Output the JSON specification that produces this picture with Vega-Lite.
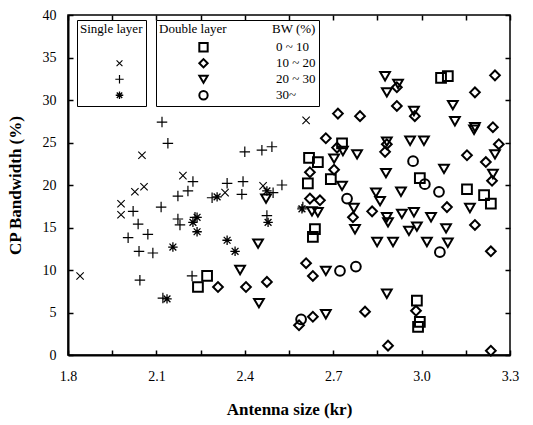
{
  "$schema": "https://vega.github.io/schema/vega-lite/v6.json",
  "width": 442,
  "height": 340,
  "autosize": {"type": "none"},
  "padding": {"left": 68, "top": 15, "right": 23, "bottom": 70},
  "background": "white",
  "config": {
    "font": "Liberation Serif",
    "view": {"stroke": "black", "strokeWidth": 1.5},
    "axis": {
      "domainColor": "black",
      "domainWidth": 2,
      "tickColor": "black",
      "tickWidth": 1.5,
      "grid": false,
      "labelFont": "Liberation Serif",
      "labelFontSize": 14,
      "labelColor": "black",
      "titleFont": "Liberation Serif",
      "titleFontSize": 17,
      "titleFontWeight": "bold",
      "titleColor": "black"
    },
    "legend": {
      "labelFont": "Liberation Serif",
      "titleFont": "Liberation Serif",
      "titleFontWeight": "normal",
      "titleFontSize": 13,
      "labelFontSize": 13,
      "titleColor": "black",
      "labelColor": "black",
      "strokeColor": "black",
      "fillColor": "white",
      "symbolStrokeColor": "black",
      "symbolFillColor": "transparent",
      "symbolStrokeWidth": 2,
      "symbolSize": 70,
      "rowPadding": 1,
      "clipHeight": 14.5,
      "padding": 3
    }
  },
  "data": {
    "values": [
      {"layer": "Single", "bw": "10 ~ 20", "x": 1.841, "y": 9.3},
      {"layer": "Single", "bw": "10 ~ 20", "x": 2.051, "y": 23.5},
      {"layer": "Single", "bw": "10 ~ 20", "x": 1.98, "y": 17.8},
      {"layer": "Single", "bw": "10 ~ 20", "x": 1.98, "y": 16.5},
      {"layer": "Single", "bw": "10 ~ 20", "x": 2.027, "y": 19.2},
      {"layer": "Single", "bw": "10 ~ 20", "x": 2.058, "y": 19.8},
      {"layer": "Single", "bw": "10 ~ 20", "x": 2.19, "y": 21.1},
      {"layer": "Single", "bw": "10 ~ 20", "x": 2.608, "y": 27.6},
      {"layer": "Single", "bw": "10 ~ 20", "x": 2.333, "y": 19.1},
      {"layer": "Single", "bw": "10 ~ 20", "x": 2.462, "y": 19.9},
      {"layer": "Single", "bw": "20 ~ 30", "x": 2.119, "y": 27.4},
      {"layer": "Single", "bw": "20 ~ 30", "x": 2.139, "y": 24.9},
      {"layer": "Single", "bw": "20 ~ 30", "x": 2.224, "y": 20.4},
      {"layer": "Single", "bw": "20 ~ 30", "x": 2.207, "y": 19.3},
      {"layer": "Single", "bw": "20 ~ 30", "x": 2.173, "y": 18.7},
      {"layer": "Single", "bw": "20 ~ 30", "x": 2.116, "y": 17.4},
      {"layer": "Single", "bw": "20 ~ 30", "x": 2.021, "y": 16.9},
      {"layer": "Single", "bw": "20 ~ 30", "x": 2.038, "y": 15.4},
      {"layer": "Single", "bw": "20 ~ 30", "x": 2.071, "y": 14.2},
      {"layer": "Single", "bw": "20 ~ 30", "x": 2.004, "y": 13.8},
      {"layer": "Single", "bw": "20 ~ 30", "x": 2.041, "y": 12.2},
      {"layer": "Single", "bw": "20 ~ 30", "x": 2.088, "y": 12.0},
      {"layer": "Single", "bw": "20 ~ 30", "x": 2.044, "y": 8.8},
      {"layer": "Single", "bw": "20 ~ 30", "x": 2.221, "y": 9.3},
      {"layer": "Single", "bw": "20 ~ 30", "x": 2.173, "y": 16.0},
      {"layer": "Single", "bw": "20 ~ 30", "x": 2.18, "y": 15.3},
      {"layer": "Single", "bw": "20 ~ 30", "x": 2.289, "y": 18.5},
      {"layer": "Single", "bw": "20 ~ 30", "x": 2.40, "y": 23.9},
      {"layer": "Single", "bw": "20 ~ 30", "x": 2.458, "y": 24.1},
      {"layer": "Single", "bw": "20 ~ 30", "x": 2.492, "y": 24.5},
      {"layer": "Single", "bw": "20 ~ 30", "x": 2.34, "y": 20.2},
      {"layer": "Single", "bw": "20 ~ 30", "x": 2.394, "y": 20.4},
      {"layer": "Single", "bw": "20 ~ 30", "x": 2.39, "y": 18.9},
      {"layer": "Single", "bw": "20 ~ 30", "x": 2.526, "y": 20.0},
      {"layer": "Single", "bw": "20 ~ 30", "x": 2.496, "y": 19.1},
      {"layer": "Single", "bw": "20 ~ 30", "x": 2.475, "y": 16.4},
      {"layer": "Single", "bw": "20 ~ 30", "x": 2.597, "y": 17.4},
      {"layer": "Single", "bw": "20 ~ 30", "x": 2.231, "y": 16.2},
      {"layer": "Single", "bw": "20 ~ 30", "x": 2.122, "y": 6.7},
      {"layer": "Single", "bw": "30~", "x": 2.306, "y": 18.6},
      {"layer": "Single", "bw": "30~", "x": 2.238, "y": 16.2},
      {"layer": "Single", "bw": "30~", "x": 2.224, "y": 15.6},
      {"layer": "Single", "bw": "30~", "x": 2.238, "y": 14.5},
      {"layer": "Single", "bw": "30~", "x": 2.156, "y": 12.7},
      {"layer": "Single", "bw": "30~", "x": 2.136, "y": 6.6},
      {"layer": "Single", "bw": "30~", "x": 2.34, "y": 13.5},
      {"layer": "Single", "bw": "30~", "x": 2.367, "y": 12.2},
      {"layer": "Single", "bw": "30~", "x": 2.479, "y": 15.6},
      {"layer": "Single", "bw": "30~", "x": 2.475, "y": 19.3},
      {"layer": "Single", "bw": "30~", "x": 2.594, "y": 17.2},
      {"layer": "Double", "bw": "0 ~ 10", "x": 2.272, "y": 9.3},
      {"layer": "Double", "bw": "0 ~ 10", "x": 2.241, "y": 8.0},
      {"layer": "Double", "bw": "0 ~ 10", "x": 2.638, "y": 14.8},
      {"layer": "Double", "bw": "0 ~ 10", "x": 2.631, "y": 13.9},
      {"layer": "Double", "bw": "0 ~ 10", "x": 2.618, "y": 23.2},
      {"layer": "Double", "bw": "0 ~ 10", "x": 2.648, "y": 22.7},
      {"layer": "Double", "bw": "0 ~ 10", "x": 2.692, "y": 20.7},
      {"layer": "Double", "bw": "0 ~ 10", "x": 2.614, "y": 20.2},
      {"layer": "Double", "bw": "0 ~ 10", "x": 3.066, "y": 32.6},
      {"layer": "Double", "bw": "0 ~ 10", "x": 3.089, "y": 32.8},
      {"layer": "Double", "bw": "0 ~ 10", "x": 2.73, "y": 24.9},
      {"layer": "Double", "bw": "0 ~ 10", "x": 2.994, "y": 20.8},
      {"layer": "Double", "bw": "0 ~ 10", "x": 3.154, "y": 19.5},
      {"layer": "Double", "bw": "0 ~ 10", "x": 3.212, "y": 18.8},
      {"layer": "Double", "bw": "0 ~ 10", "x": 3.235, "y": 17.8},
      {"layer": "Double", "bw": "0 ~ 10", "x": 2.984, "y": 6.4},
      {"layer": "Double", "bw": "0 ~ 10", "x": 2.994, "y": 3.9},
      {"layer": "Double", "bw": "0 ~ 10", "x": 2.988, "y": 3.3},
      {"layer": "Double", "bw": "10 ~ 20", "x": 2.309, "y": 8.0},
      {"layer": "Double", "bw": "10 ~ 20", "x": 2.404, "y": 8.0},
      {"layer": "Double", "bw": "10 ~ 20", "x": 2.475, "y": 8.6},
      {"layer": "Double", "bw": "10 ~ 20", "x": 2.608, "y": 10.8},
      {"layer": "Double", "bw": "10 ~ 20", "x": 2.631, "y": 9.3},
      {"layer": "Double", "bw": "10 ~ 20", "x": 2.631, "y": 4.5},
      {"layer": "Double", "bw": "10 ~ 20", "x": 2.584, "y": 3.5},
      {"layer": "Double", "bw": "10 ~ 20", "x": 2.716, "y": 28.4},
      {"layer": "Double", "bw": "10 ~ 20", "x": 2.675, "y": 25.5},
      {"layer": "Double", "bw": "10 ~ 20", "x": 2.713, "y": 24.4},
      {"layer": "Double", "bw": "10 ~ 20", "x": 2.703, "y": 21.8},
      {"layer": "Double", "bw": "10 ~ 20", "x": 2.621, "y": 21.5},
      {"layer": "Double", "bw": "10 ~ 20", "x": 2.621, "y": 18.4},
      {"layer": "Double", "bw": "10 ~ 20", "x": 2.655, "y": 18.2},
      {"layer": "Double", "bw": "10 ~ 20", "x": 2.791, "y": 28.1},
      {"layer": "Double", "bw": "10 ~ 20", "x": 2.916, "y": 29.3},
      {"layer": "Double", "bw": "10 ~ 20", "x": 2.916, "y": 31.5},
      {"layer": "Double", "bw": "10 ~ 20", "x": 2.977, "y": 28.1},
      {"layer": "Double", "bw": "10 ~ 20", "x": 3.181, "y": 30.9},
      {"layer": "Double", "bw": "10 ~ 20", "x": 3.249, "y": 32.9},
      {"layer": "Double", "bw": "10 ~ 20", "x": 3.242, "y": 26.8},
      {"layer": "Double", "bw": "10 ~ 20", "x": 2.876, "y": 23.9},
      {"layer": "Double", "bw": "10 ~ 20", "x": 2.882, "y": 24.8},
      {"layer": "Double", "bw": "10 ~ 20", "x": 3.154, "y": 23.5},
      {"layer": "Double", "bw": "10 ~ 20", "x": 3.218, "y": 22.7},
      {"layer": "Double", "bw": "10 ~ 20", "x": 3.262, "y": 24.8},
      {"layer": "Double", "bw": "10 ~ 20", "x": 3.239, "y": 20.5},
      {"layer": "Double", "bw": "10 ~ 20", "x": 2.767, "y": 16.2},
      {"layer": "Double", "bw": "10 ~ 20", "x": 2.832, "y": 16.9},
      {"layer": "Double", "bw": "10 ~ 20", "x": 3.086, "y": 17.4},
      {"layer": "Double", "bw": "10 ~ 20", "x": 3.181, "y": 15.3},
      {"layer": "Double", "bw": "10 ~ 20", "x": 3.235, "y": 12.2},
      {"layer": "Double", "bw": "10 ~ 20", "x": 2.808, "y": 5.1},
      {"layer": "Double", "bw": "10 ~ 20", "x": 2.981, "y": 5.2},
      {"layer": "Double", "bw": "10 ~ 20", "x": 2.886, "y": 1.1},
      {"layer": "Double", "bw": "10 ~ 20", "x": 3.235, "y": 0.5},
      {"layer": "Double", "bw": "20 ~ 30", "x": 2.445, "y": 13.1},
      {"layer": "Double", "bw": "20 ~ 30", "x": 2.384, "y": 10.0},
      {"layer": "Double", "bw": "20 ~ 30", "x": 2.448, "y": 6.1},
      {"layer": "Double", "bw": "20 ~ 30", "x": 2.675, "y": 9.9},
      {"layer": "Double", "bw": "20 ~ 30", "x": 2.675, "y": 4.8},
      {"layer": "Double", "bw": "20 ~ 30", "x": 2.876, "y": 32.8},
      {"layer": "Double", "bw": "20 ~ 30", "x": 2.92, "y": 31.9},
      {"layer": "Double", "bw": "20 ~ 30", "x": 2.882, "y": 30.9},
      {"layer": "Double", "bw": "20 ~ 30", "x": 2.974, "y": 28.7},
      {"layer": "Double", "bw": "20 ~ 30", "x": 3.106, "y": 29.4},
      {"layer": "Double", "bw": "20 ~ 30", "x": 3.113, "y": 27.5},
      {"layer": "Double", "bw": "20 ~ 30", "x": 3.181, "y": 26.8},
      {"layer": "Double", "bw": "20 ~ 30", "x": 2.703, "y": 23.1},
      {"layer": "Double", "bw": "20 ~ 30", "x": 2.781, "y": 23.6},
      {"layer": "Double", "bw": "20 ~ 30", "x": 2.733, "y": 24.0},
      {"layer": "Double", "bw": "20 ~ 30", "x": 2.882, "y": 25.1},
      {"layer": "Double", "bw": "20 ~ 30", "x": 2.961, "y": 25.2},
      {"layer": "Double", "bw": "20 ~ 30", "x": 3.008, "y": 25.2},
      {"layer": "Double", "bw": "20 ~ 30", "x": 3.178, "y": 26.5},
      {"layer": "Double", "bw": "20 ~ 30", "x": 2.879, "y": 21.4},
      {"layer": "Double", "bw": "20 ~ 30", "x": 3.076, "y": 21.9},
      {"layer": "Double", "bw": "20 ~ 30", "x": 3.249, "y": 23.6},
      {"layer": "Double", "bw": "20 ~ 30", "x": 3.242, "y": 21.3},
      {"layer": "Double", "bw": "20 ~ 30", "x": 2.73, "y": 19.9},
      {"layer": "Double", "bw": "20 ~ 30", "x": 2.845, "y": 19.1},
      {"layer": "Double", "bw": "20 ~ 30", "x": 2.93, "y": 19.2},
      {"layer": "Double", "bw": "20 ~ 30", "x": 2.859, "y": 18.1},
      {"layer": "Double", "bw": "20 ~ 30", "x": 2.77, "y": 17.3},
      {"layer": "Double", "bw": "20 ~ 30", "x": 2.882, "y": 16.2},
      {"layer": "Double", "bw": "20 ~ 30", "x": 2.886, "y": 15.6},
      {"layer": "Double", "bw": "20 ~ 30", "x": 2.933, "y": 16.6},
      {"layer": "Double", "bw": "20 ~ 30", "x": 2.974, "y": 16.8},
      {"layer": "Double", "bw": "20 ~ 30", "x": 3.032, "y": 16.2},
      {"layer": "Double", "bw": "20 ~ 30", "x": 3.164, "y": 17.3},
      {"layer": "Double", "bw": "20 ~ 30", "x": 2.957, "y": 14.6},
      {"layer": "Double", "bw": "20 ~ 30", "x": 2.984, "y": 15.1},
      {"layer": "Double", "bw": "20 ~ 30", "x": 3.083, "y": 14.9},
      {"layer": "Double", "bw": "20 ~ 30", "x": 2.774, "y": 14.8},
      {"layer": "Double", "bw": "20 ~ 30", "x": 2.849, "y": 13.3},
      {"layer": "Double", "bw": "20 ~ 30", "x": 2.903, "y": 13.3},
      {"layer": "Double", "bw": "20 ~ 30", "x": 3.018, "y": 13.3},
      {"layer": "Double", "bw": "20 ~ 30", "x": 3.089, "y": 13.2},
      {"layer": "Double", "bw": "20 ~ 30", "x": 2.882, "y": 7.2},
      {"layer": "Double", "bw": "20 ~ 30", "x": 2.628, "y": 16.9},
      {"layer": "Double", "bw": "20 ~ 30", "x": 2.648, "y": 16.8},
      {"layer": "Double", "bw": "20 ~ 30", "x": 2.472, "y": 18.4},
      {"layer": "Double", "bw": "30~", "x": 2.591, "y": 4.2},
      {"layer": "Double", "bw": "30~", "x": 2.723, "y": 9.9},
      {"layer": "Double", "bw": "30~", "x": 2.777, "y": 10.4},
      {"layer": "Double", "bw": "30~", "x": 3.062, "y": 12.1},
      {"layer": "Double", "bw": "30~", "x": 2.971, "y": 22.8},
      {"layer": "Double", "bw": "30~", "x": 3.011, "y": 20.1},
      {"layer": "Double", "bw": "30~", "x": 3.059, "y": 19.2},
      {"layer": "Double", "bw": "30~", "x": 2.747, "y": 18.4}
    ]
  },
  "layer": [
    {
      "transform": [{"filter": "datum.layer == 'Single'"}],
      "mark": {"type": "point", "filled": false, "stroke": "black", "size": 110, "opacity": 1},
      "encoding": {
        "x": {
          "field": "x", "type": "quantitative",
          "scale": {"domain": [1.8, 3.3], "nice": false, "zero": false},
          "axis": {
            "orient": "bottom",
            "title": "Antenna size (kr)",
            "values": [1.8, 1.95, 2.1, 2.25, 2.4, 2.55, 2.7, 2.85, 3.0, 3.15, 3.3],
            "labelExpr": "abs(datum.value*10/3 - round(datum.value*10/3)) < 0.01 ? format(datum.value, '.1f') : ''",
            "tickSize": -5,
            "labelPadding": 19,
            "titlePadding": 18,
            "labelFlush": false
          }
        },
        "y": {
          "field": "y", "type": "quantitative",
          "scale": {"domain": [0, 40], "nice": false},
          "axis": {
            "orient": "left",
            "title": "CP Bandwidth (%)",
            "values": [0, 5, 10, 15, 20, 25, 30, 35, 40],
            "tickSize": -5,
            "labelPadding": 17,
            "titlePadding": 18,
            "labelFlush": false
          }
        },
        "shape": {
          "field": "bw", "type": "nominal",
          "scale": {
            "domain": ["0 ~ 10", "10 ~ 20", "20 ~ 30", "30~"],
            "range": ["M0,0", "M-0.7,-0.7L0.7,0.7M-0.7,0.7L0.7,-0.7", "M-1,0L1,0M0,-1L0,1", "M-0.9,0L0.9,0M0,-0.9L0,0.9M-0.65,-0.65L0.65,0.65M-0.65,0.65L0.65,-0.65"]
          },
          "legend": {
            "title": "Single layer\u00a0",
            "orient": "none",
            "legendX": 9,
            "legendY": 5,
            "labelExpr": "'\u00a0'",
            "symbolOffset": 33,
            "symbolSize": 70,
            "titlePadding": 4
          }
        },
        "strokeWidth": {
          "field": "bw", "type": "ordinal",
          "scale": {"domain": ["0 ~ 10", "10 ~ 20", "20 ~ 30", "30~"], "range": [1, 1.3, 2.4, 1.6]},
          "legend": null
        }
      }
    },
    {
      "transform": [{"filter": "datum.layer == 'Double'"}],
      "mark": {"type": "point", "filled": false, "stroke": "black", "strokeWidth": 2, "size": 95, "opacity": 1},
      "encoding": {
        "x": {
          "field": "x", "type": "quantitative",
          "scale": {"domain": [1.8, 3.3], "nice": false, "zero": false},
          "axis": {
            "orient": "top",
            "title": null,
            "labels": false,
            "domain": false,
            "values": [1.8, 1.95, 2.1, 2.25, 2.4, 2.55, 2.7, 2.85, 3.0, 3.15, 3.3],
            "tickSize": -5
          }
        },
        "y": {
          "field": "y", "type": "quantitative",
          "scale": {"domain": [0, 40], "nice": false},
          "axis": {
            "orient": "right",
            "title": null,
            "labels": false,
            "domain": false,
            "values": [0, 5, 10, 15, 20, 25, 30, 35, 40],
            "tickSize": -5
          }
        },
        "shape": {
          "field": "bw", "type": "nominal",
          "scale": {
            "domain": ["0 ~ 10", "10 ~ 20", "20 ~ 30", "30~"],
            "range": ["square", "diamond", "triangle-down", "circle"]
          },
          "legend": {
            "title": "Double layer\u00a0\u00a0\u00a0\u00a0\u00a0\u00a0\u00a0\u00a0\u00a0\u00a0\u00a0\u00a0\u00a0\u00a0BW (%)\u00a0\u00a0\u00a0\u00a0\u00a0",
            "orient": "none",
            "legendX": 88,
            "legendY": 5,
            "symbolOffset": 38,
            "symbolSize": 70,
            "labelOffset": 66,
            "titlePadding": 4
          }
        }
      }
    }
  ],
  "resolve": {
    "scale": {"shape": "independent", "strokeWidth": "independent"},
    "axis": {"x": "independent", "y": "independent"},
    "legend": {"shape": "independent"}
  }
}
